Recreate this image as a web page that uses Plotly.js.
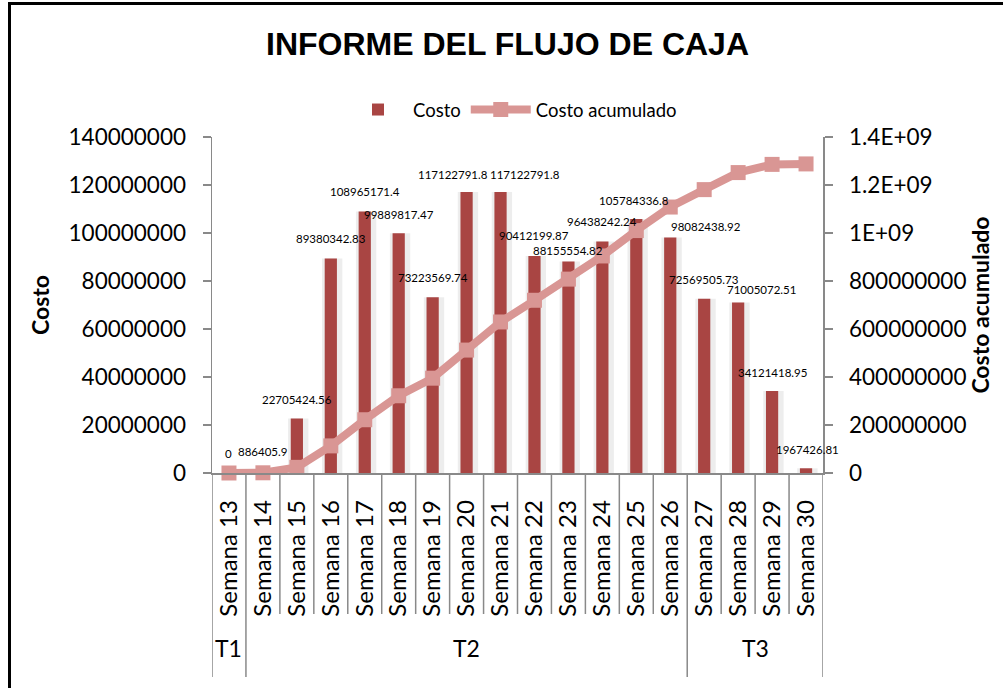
<!DOCTYPE html>
<html>
<head>
<meta charset="utf-8">
<script src="https://cdn.plot.ly/plotly-3.0.1.min.js"></script>
<style>
  html, body { margin: 0; padding: 0; background: #ffffff; }
  #chart { width: 1003px; height: 688px; }
</style>
</head>
<body>
<div id="chart"></div>
<script>
// ---- data ----
const semanas = ["Semana 13","Semana 14","Semana 15","Semana 16","Semana 17","Semana 18",
  "Semana 19","Semana 20","Semana 21","Semana 22","Semana 23","Semana 24","Semana 25",
  "Semana 26","Semana 27","Semana 28","Semana 29","Semana 30"];
const costo = [0, 886405.9, 22705424.56, 89380342.83, 108965171.4, 99889817.47,
  73223569.74, 117122791.8, 117122791.8, 90412199.87, 88155554.82, 96438242.24,
  105784336.8, 98082438.92, 72569505.73, 71005072.51, 34121418.95, 1967426.81];
const costoAcumulado = [0, 886405.9, 23591830.46, 112972173.29, 221937344.69, 321827162.16,
  395050731.9, 512173523.7, 629296315.5, 719708515.37, 807864070.19, 904302312.43,
  1010086649.23, 1108169088.15, 1180738593.88, 1251743666.39, 1285865085.34, 1287832512.15];
const grupos = ["T1", "T2", "T3"];
const grupoTamanos = [1, 13, 4];
const y1TickVals = [0, 20000000, 40000000, 60000000, 80000000, 100000000, 120000000, 140000000];
const y1TickText = ["0","20000000","40000000","60000000","80000000","100000000","120000000","140000000"];
const y2TickVals = [0, 200000000, 400000000, 600000000, 800000000, 1000000000, 1200000000, 1400000000];
const y2TickText = ["0","200000000","400000000","600000000","800000000","1E+09","1.2E+09","1.4E+09"];

// ---- style / geometry ----
const W = 1003, H = 688;
const M = { l: 212, r: 180, t: 137, b: 215 };
const PW = W - M.l - M.r, PH = H - M.t - M.b;
const px2x = px => (px - M.l) / PW;
const py2y = py => (H - M.b - py) / PH;
const FONT = "Lato, 'Open Sans', sans-serif";
const AXIS_GRAY = "#898989";
const BAR_RED = "#A94543";
const LINE_PINK = "#D99694";
// data-label nudges in pixels (style only)
const labelDX = [0,0,0,0,0,0,0,-14,24,0,0,0,-2,36,0,23,0,1];
const labelDY = [20,19,19,20,20,19,20,17,17,21,11,20,19,11,19,13,19,19];

const traces = [
  {
    type: "bar", x: semanas, y: costo, width: 0.6, offset: -0.26,
    marker: { color: "rgba(0,0,0,0.07)" }, hoverinfo: "skip", showlegend: false
  },
  {
    type: "bar", name: "Costo", x: semanas, y: costo, width: 0.36,
    marker: { color: BAR_RED }
  },
  {
    type: "scatter", mode: "lines+markers", name: "Costo acumulado",
    x: semanas, y: costoAcumulado, yaxis: "y2", cliponaxis: false,
    line: { color: LINE_PINK, width: 8 },
    marker: { symbol: "square", size: 15, color: LINE_PINK }
  }
];

// data labels
const annotations = semanas.map((s, i) => ({
  x: s, y: costo[i], xref: "x", yref: "y", text: String(costo[i]),
  showarrow: false, xshift: labelDX[i], yshift: labelDY[i], yanchor: "middle",
  font: { family: FONT, size: 11.5, color: "#000" }
}));

// group labels + separators
const shapes = [];
let start = 0;
const groupBounds = [-0.5];
grupos.forEach((g, gi) => {
  const n = grupoTamanos[gi];
  const center = start + (n - 1) / 2;
  annotations.push({
    x: center, xref: "x", y: py2y(648), yref: "paper", text: g, showarrow: false,
    yanchor: "middle", font: { family: FONT, size: 23, color: "#000" }
  });
  start += n;
  groupBounds.push(start - 0.5);
});
for (let k = 0; k < semanas.length - 1; k++) {
  const xb = k + 0.5;
  if (groupBounds.includes(xb)) continue;
  shapes.push({ type: "line", xref: "x", yref: "paper", x0: xb, x1: xb, y0: 0, y1: py2y(614),
    line: { color: AXIS_GRAY, width: 1.5 } });
}
groupBounds.forEach(xb => {
  shapes.push({ type: "line", xref: "x", yref: "paper", x0: xb, x1: xb, y0: 0, y1: py2y(677),
    line: { color: AXIS_GRAY, width: 1.5 } });
});
// outer chart border
shapes.push({ type: "rect", xref: "paper", yref: "paper", x0: px2x(9.5), x1: px2x(1010),
  y0: py2y(700), y1: py2y(3.5), line: { color: "#000", width: 3 }, fillcolor: "rgba(0,0,0,0)" });

const layout = {
  width: W, height: H,
  margin: M,
  paper_bgcolor: "#ffffff", plot_bgcolor: "#ffffff",
  barmode: "overlay",
  font: { family: FONT, color: "#000" },
  title: {
    text: "<b>INFORME DEL FLUJO DE CAJA</b>",
    font: { family: "'Liberation Sans Narrow', 'Arial Narrow', 'Liberation Sans', Arial, sans-serif", size: 32, color: "#000" },
    xref: "container", x: 0.506, yref: "container", y: 1 - 44 / H, yanchor: "middle", xanchor: "center"
  },
  showlegend: true,
  legend: {
    orientation: "h", x: px2x(343), xanchor: "left", y: py2y(110), yanchor: "middle",
    itemwidth: 60, traceorder: "normal",
    font: { family: FONT, size: 18.5, color: "#000" }, bgcolor: "rgba(0,0,0,0)"
  },
  xaxis: {
    type: "category", categoryorder: "array", categoryarray: semanas,
    range: [-0.5, semanas.length - 0.5],
    showline: true, linecolor: AXIS_GRAY, linewidth: 1.5,
    ticks: "", tickangle: -90, ticklabelstandoff: 16,
    tickfont: { family: FONT, size: 24, color: "#000" },
    showgrid: false, zeroline: false, automargin: false
  },
  yaxis: {
    range: [0, 140000000], tickvals: y1TickVals, ticktext: y1TickText,
    showline: true, linecolor: AXIS_GRAY, linewidth: 1.5,
    ticks: "outside", ticklen: 8, tickcolor: AXIS_GRAY, tickwidth: 1.5,
    ticklabelstandoff: 12,
    tickfont: { family: FONT, size: 22.5, color: "#000" },
    showgrid: false, zeroline: false, automargin: false,
    title: { text: "<b>Costo</b>", standoff: 12, font: { family: FONT, size: 23, color: "#000" } }
  },
  yaxis2: {
    overlaying: "y", side: "right",
    range: [0, 1400000000], tickvals: y2TickVals, ticktext: y2TickText,
    showline: true, linecolor: AXIS_GRAY, linewidth: 1.5,
    ticks: "outside", ticklen: 8, tickcolor: AXIS_GRAY, tickwidth: 1.5,
    ticklabelstandoff: 12,
    tickfont: { family: FONT, size: 22.5, color: "#000" },
    showgrid: false, zeroline: false, automargin: false,
    title: { text: "<b>Costo acumulado</b>", standoff: 0, font: { family: FONT, size: 23, color: "#000" } }
  },
  annotations: annotations,
  shapes: shapes
};

Plotly.newPlot("chart", traces, layout, { displayModeBar: false, staticPlot: true });
</script>
</body>
</html>
